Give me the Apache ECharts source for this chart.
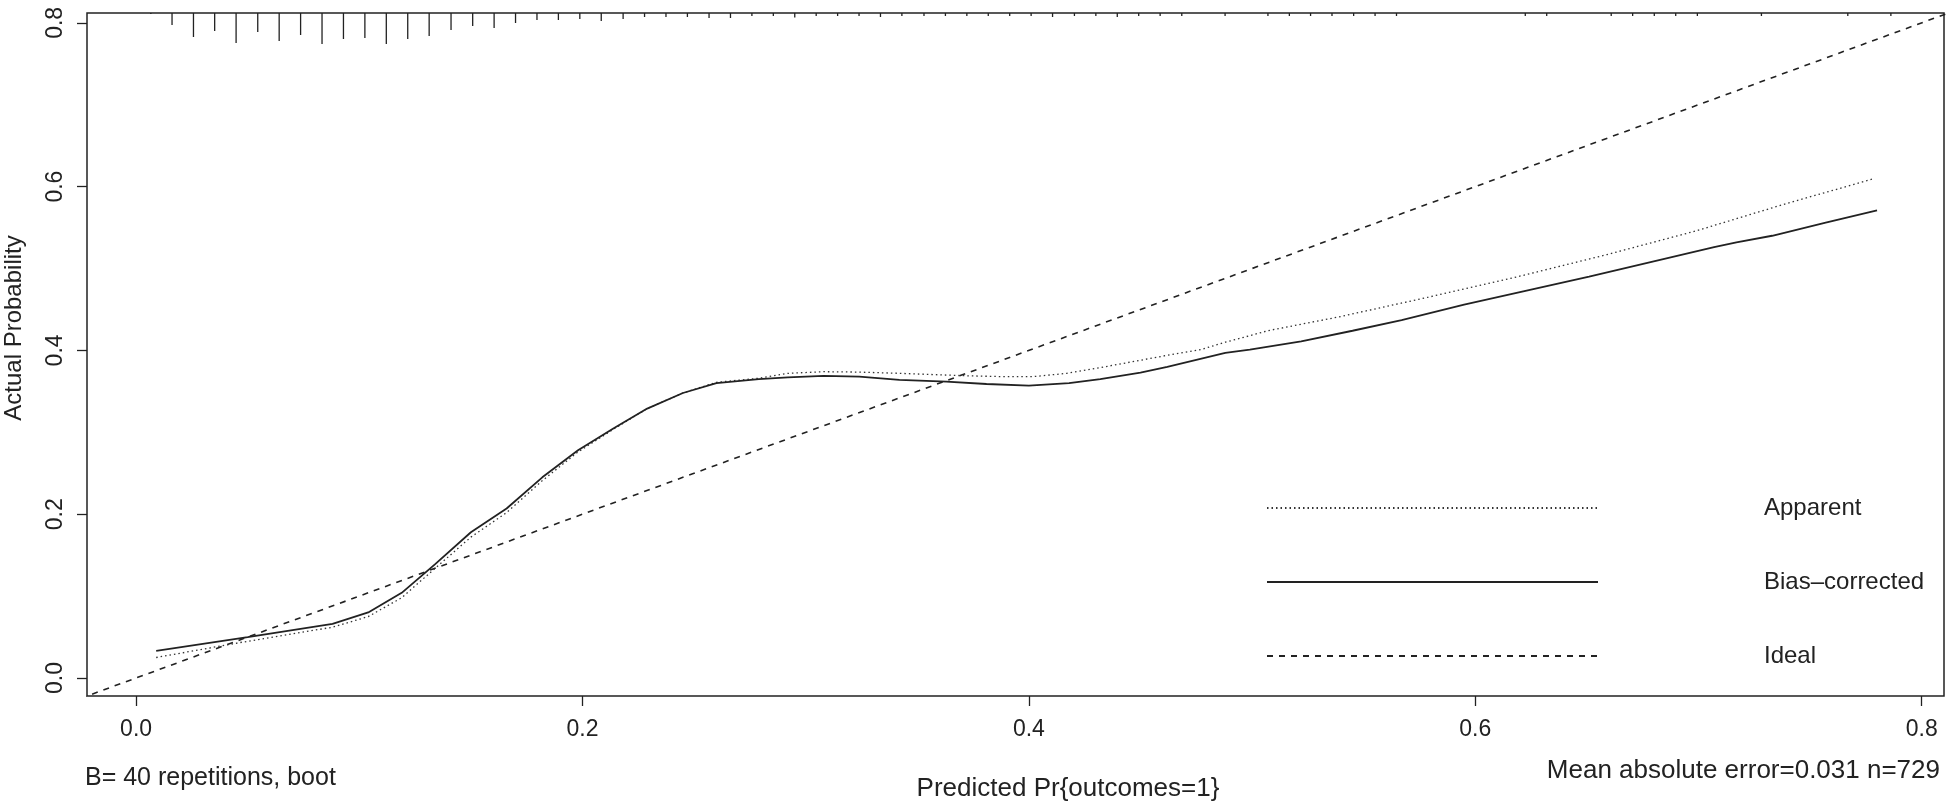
<!DOCTYPE html>
<html>
<head>
<meta charset="utf-8">
<title>Calibration curve</title>
<script src="https://cdn.jsdelivr.net/npm/echarts@6/dist/echarts.min.js"></script>
<style>
    html, body { margin: 0; padding: 0; background: #ffffff; }
    #char1 { width: 1952px; height: 804px; }
</style>
</head>
<body>
<div id="char1"></div>
<script>
// apparent calibration (dotted)
var apparentX = [0.009, 0.046, 0.088, 0.104, 0.119, 0.134, 0.150, 0.166, 0.182, 0.198, 0.214, 0.229, 0.245, 0.260, 0.279, 0.292, 0.308, 0.324, 0.342, 0.372, 0.388, 0.402, 0.417, 0.434, 0.450, 0.466, 0.477, 0.488, 0.499, 0.507, 0.539, 0.579, 0.619, 0.659, 0.699, 0.739, 0.779];
var apparentY = [0.025, 0.043, 0.062, 0.075, 0.098, 0.134, 0.172, 0.202, 0.241, 0.276, 0.304, 0.329, 0.348, 0.361, 0.366, 0.372, 0.374, 0.3735, 0.372, 0.369, 0.368, 0.368, 0.372, 0.380, 0.388, 0.396, 0.401, 0.410, 0.418, 0.424, 0.441, 0.465, 0.490, 0.517, 0.546, 0.579, 0.610];

// bias-corrected calibration (solid)
var biasX = [0.009, 0.050, 0.088, 0.104, 0.119, 0.134, 0.150, 0.166, 0.182, 0.198, 0.214, 0.229, 0.245, 0.260, 0.279, 0.292, 0.308, 0.324, 0.342, 0.363, 0.381, 0.400, 0.418, 0.432, 0.450, 0.462, 0.488, 0.499, 0.522, 0.545, 0.567, 0.595, 0.623, 0.651, 0.679, 0.707, 0.717, 0.733, 0.757, 0.780];
var biasY = [0.033, 0.050, 0.066, 0.080, 0.104, 0.139, 0.178, 0.207, 0.245, 0.278, 0.305, 0.329, 0.348, 0.360, 0.365, 0.367, 0.369, 0.368, 0.364, 0.362, 0.359, 0.357, 0.360, 0.365, 0.373, 0.380, 0.397, 0.401, 0.411, 0.424, 0.437, 0.456, 0.473, 0.490, 0.508, 0.526, 0.532, 0.540, 0.556, 0.571];

// ideal line y = x
var idealX = [-0.05, 0.85];

// rug of predicted probabilities (spike heights)
var rugX = [0.0066, 0.0161, 0.0257, 0.0352, 0.0448, 0.0545, 0.0641, 0.0737, 0.0833, 0.0929, 0.1025, 0.1121, 0.1217, 0.1313, 0.1411, 0.1508, 0.1604, 0.1700, 0.1796, 0.1892, 0.1988, 0.2084, 0.2182, 0.2278, 0.2374, 0.2470, 0.2567, 0.2663, 0.2759, 0.2855, 0.2951, 0.3047, 0.3143, 0.3239, 0.3335, 0.3431, 0.3530, 0.3626, 0.3722, 0.3818, 0.3914, 0.4010, 0.4106, 0.4204, 0.4300, 0.4396, 0.4492, 0.4588, 0.4685, 0.4879, 0.5071, 0.5167, 0.5262, 0.5358, 0.5455, 0.5551, 0.5647, 0.6224, 0.6320, 0.6609, 0.6705, 0.6802, 0.6898, 0.6995, 0.7282, 0.7669, 0.7862];
var rugH = [1, 12, 24, 18, 30, 19, 28, 22, 31, 26, 25, 31, 26, 23, 17, 13, 15, 10, 7, 7, 6, 8, 6, 4, 4, 4, 5, 5, 3, 3, 4.5, 3, 3, 3, 4, 3, 3, 3, 3, 3, 3, 3, 4, 3, 3, 4, 3, 3, 3, 3, 3, 3, 3, 3, 3, 3, 3, 3, 3, 3, 3, 3, 3, 3, 3, 3, 3];

var xTicks = [0, 0.2, 0.4, 0.6, 0.8];
var yTicks = [0, 0.2, 0.4, 0.6, 0.8];

var legendNames = ["Apparent", "Bias\u2013corrected", "Ideal"];

char1();

function zip(a, b) {
    var out = [];
    for (var i = 0; i < a.length; i++) out.push([a[i], b[i]]);
    return out;
}

function char1() {
    var myChart = echarts.init(document.getElementById("char1"));
    var font = "'Liberation Sans', Arial, Helvetica, sans-serif";
    var ink = "#222222";
    var yMax = 0.812;

    var option = {
        animation: false,
        color: [ink, ink, ink, ink],
        textStyle: { fontFamily: font, color: ink },
        grid: {
            left: 87, right: 8, top: 13, bottom: 108,
            show: true,
            borderColor: ink,
            borderWidth: 1.5,
            backgroundColor: "transparent",
        },
        xAxis: {
            type: "value",
            min: -0.022,
            max: 0.810,
            axisLine: { show: false, onZero: false },
            splitLine: { show: false },
            axisTick: {
                show: true,
                length: 10,
                customValues: xTicks,
                lineStyle: { color: ink, width: 1.3 },
            },
            axisLabel: {
                customValues: xTicks,
                formatter: function (v) { return v.toFixed(1); },
                fontFamily: font,
                fontSize: 23,
                color: ink,
                margin: 22,
            },
        },
        yAxis: {
            type: "value",
            min: -0.022,
            max: yMax,
            axisLine: { show: false, onZero: false },
            splitLine: { show: false },
            axisTick: {
                show: true,
                length: 10,
                customValues: yTicks,
                lineStyle: { color: ink, width: 1.3 },
            },
            axisLabel: {
                customValues: yTicks,
                formatter: function (v) { return v.toFixed(1); },
                rotate: 90,
                fontFamily: font,
                fontSize: 23,
                color: ink,
                margin: 20,
            },
        },
        legend: {
            orient: "vertical",
            left: 1266,
            top: 496,
            padding: 0,
            itemWidth: 331,
            itemHeight: 10,
            itemGap: 50,
            selectedMode: false,
            itemStyle: { opacity: 0 },
            data: legendNames,
            textStyle: {
                fontFamily: font,
                fontSize: 24,
                color: ink,
                lineHeight: 22,
                padding: [0, 0, 0, 161],
            },
        },
        graphic: [
            {
                type: "text",
                x: 14, y: 328,
                rotation: Math.PI / 2,
                style: {
                    text: "Actual Probability",
                    font: "24px " + font,
                    fill: ink,
                    align: "center",
                    verticalAlign: "middle",
                },
            },
            {
                type: "text",
                x: 1068, y: 789,
                style: {
                    text: "Predicted Pr{outcomes=1}",
                    font: "26px " + font,
                    fill: ink,
                    align: "center",
                    verticalAlign: "middle",
                },
            },
            {
                type: "text",
                x: 85, y: 778,
                style: {
                    text: "B= 40 repetitions, boot",
                    font: "25px " + font,
                    fill: ink,
                    align: "left",
                    verticalAlign: "middle",
                },
            },
            {
                type: "text",
                x: 1940, y: 771,
                style: {
                    text: "Mean absolute error=0.031 n=729",
                    font: "26px " + font,
                    fill: ink,
                    align: "right",
                    verticalAlign: "middle",
                },
            },
        ],
        series: [
            {
                name: legendNames[0],
                type: "line",
                symbol: "none",
                data: zip(apparentX, apparentY),
                lineStyle: { color: "#333333", width: 1.3, type: [1.5, 3] },
                z: 3,
            },
            {
                name: legendNames[1],
                type: "line",
                symbol: "none",
                data: zip(biasX, biasY),
                lineStyle: { color: ink, width: 1.8, type: "solid" },
                z: 4,
            },
            {
                name: legendNames[2],
                type: "line",
                symbol: "none",
                data: idealX.map(function (v) { return [v, v]; }),
                lineStyle: { color: ink, width: 1.6, type: [6, 6] },
                z: 2,
            },
            {
                name: "rug",
                type: "custom",
                data: zip(rugX, rugH),
                encode: { x: 0, y: 1 },
                renderItem: function (params, api) {
                    var p = api.coord([api.value(0), yMax]);
                    return {
                        type: "line",
                        shape: { x1: p[0], y1: p[1], x2: p[0], y2: p[1] + api.value(1) },
                        style: { stroke: ink, lineWidth: 1.3 },
                    };
                },
                z: 5,
            },
        ],
    };

    myChart.setOption(option);
    window.addEventListener("resize", function () {
        myChart.resize();
    });
}
</script>
</body>
</html>
